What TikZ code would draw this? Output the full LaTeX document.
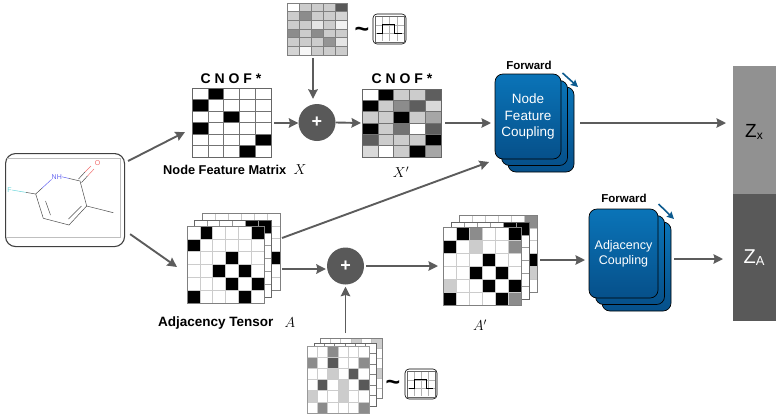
\documentclass[tikz,border=0pt]{standalone}
\usepackage{fontspec}
\setmainfont{Liberation Sans}
\usetikzlibrary{arrows.meta,calc}
\definecolor{bluetop}{HTML}{0A74B8}
\definecolor{bluebot}{HTML}{06508A}
\definecolor{bluearr}{HTML}{0C5A8E}
\definecolor{arrgray}{gray}{0.36}
\definecolor{atomF}{RGB}{110,215,220}
\definecolor{atomN}{RGB}{100,100,240}
\definecolor{atomO}{RGB}{240,110,110}
\tikzset{
  arr/.style={draw=arrgray,line width=1.9pt,-{Stealth[length=9.5pt,width=9.5pt,inset=1.2pt]}},
  bluearrow/.style={draw=bluearr,line width=1.6pt,-{Stealth[length=7pt,width=7pt,inset=1pt]}},
  anchorbox/.style={inner sep=0pt,outer sep=0pt,minimum width=#1},
  plusnode/.style={circle,fill=black!65,text=white,inner sep=0pt,minimum size=37pt,font=\bfseries\fontsize{18}{18}\selectfont},
  card/.style={draw=black,line width=0.7pt,rounded corners=8pt,top color=bluetop,bottom color=bluebot},
  cardtext/.style={text=white,align=center,inner sep=0pt},
  fwd/.style={font=\bfseries\fontsize{11.5}{12}\selectfont,inner sep=0pt},
  cnof/.style={font=\bfseries\fontsize{14}{14}\selectfont,inner sep=0pt},
  captext/.style={font=\bfseries\fontsize{#1}{14}\selectfont,inner sep=0pt},
  mathlab/.style={font=\fontsize{14.4}{15}\selectfont,inner sep=0pt},
  tildetext/.style={font=\bfseries\fontsize{25}{25}\selectfont,inner sep=0pt},
  bond/.style={draw=black!70,line width=0.5pt},
  atom/.style={inner sep=0pt,font=\fontsize{7}{8}\selectfont}
}
% x0 y0 w h cols rows inner outer cells(c/r/darkness)
\newcommand{\gridmat}[9]{%
  \fill[white] (#1,#2) rectangle ++(#3,#4);
  \foreach \cc/\rr/\gg in {#9}{%
    \fill[black!\gg] ({#1+\cc*#3/#5},{#2+\rr*#4/#6}) rectangle ++({#3/#5},{#4/#6});
  }
  \foreach \ii in {1,...,\numexpr#5-1\relax}{\draw[#7,line width=0.6pt] ({#1+\ii*#3/#5},#2) -- ++(0,#4);}
  \foreach \ii in {1,...,\numexpr#6-1\relax}{\draw[#7,line width=0.6pt] (#1,{#2+\ii*#4/#6}) -- ++(#3,0);}
  \draw[#8,line width=0.7pt] (#1,#2) rectangle ++(#3,#4);
}
% uniform icon: x0 y0 w h
\newcommand{\uniformicon}[4]{%
  \draw[black,line width=0.6pt,rounded corners=4pt,fill=white] (#1,#2) rectangle ++(#3,#4);
  \foreach \ii in {1,2,3}{\draw[black!30,line width=0.4pt] ({#1+2+\ii*(#3-4)/4},#2+3) -- ++(0,#4-6);}
  \foreach \ii in {1,2}{\draw[black!30,line width=0.4pt] (#1+2,{#2+3+\ii*(#4-6)/3}) -- ++(#3-4,0);}
  \draw[black!60,line width=0.5pt] (#1+2,#2+2) rectangle ++(#3-4,#4-4);
  \draw[black,line width=1.1pt] ({#1+.12*#3},{#2+.64*#4}) -- ++({.17*#3},0) -- ++(0,{-.28*#4}) -- ++({.37*#3},0) -- ++(0,{.28*#4}) -- ++({.21*#3},0);
}
\newcommand{\cardstack}[4]{%
  \path[card] (#1+13,#2+13) rectangle ++(#3,#4);
  \path[card] (#1+6.5,#2+6.5) rectangle ++(#3,#4);
  \path[card] (#1,#2) rectangle ++(#3,#4);
}
\begin{document}
\begin{tikzpicture}[x=1pt,y=-1pt]
\useasboundingbox (0,0) rectangle (783,418);
% molecule
\node[draw=black!75,line width=1.1pt,rounded corners=10pt,anchor=north west,inner sep=0pt,minimum width=119pt,minimum height=93pt] (mol) at (5,153) {};
\draw[black!25,line width=0.5pt] (7,158) -- (120.5,158) -- (120.5,237.5) -- (7,237.5);
\coordinate (c6) at (35.7,194);
\coordinate (c2) at (80,181);
\coordinate (c3) at (86.7,206);
\coordinate (me) at (113.3,212.7);
\coordinate (c4) at (69,225);
\coordinate (c5) at (43.3,218.3);
\node[atom,text=atomF] (fa) at (9.5,190) {F};
\node[atom,text=atomN] (nh) at (56.8,176.8) {NH};
\node[atom,text=atomO] (oa) at (97.5,163) {O};
\draw[atomF,line width=0.5pt] (fa.east) -- ($(fa.east)!0.6!(c6)$);
\draw[bond] ($(fa.east)!0.6!(c6)$) -- (c6);
\draw[atomN,line width=0.5pt] (nh.south west) -- ($(nh.south west)!0.6!(c6)$);
\draw[bond] ($(nh.south west)!0.6!(c6)$) -- (c6);
\draw[atomN,line width=0.5pt] (nh.east) -- ($(nh.east)!0.4!(c2)$);
\draw[bond] ($(nh.east)!0.4!(c2)$) -- (c2);
\draw[bond] (c2) -- (c3) -- (me);
\draw[bond] (c3) -- (c4) -- (c5) -- (c6);
\draw[bond] (45.5,201) -- (50.5,215);
\draw[bond] (68.5,219) -- (81.5,206);
\draw[bond] (78.5,179) -- (85,172);
\draw[atomO,line width=0.5pt] (85,172) -- (91,166);
\draw[bond] (81.5,182.5) -- (87.5,176);
\draw[atomO,line width=0.5pt] (87.5,176) -- (94,169);
% X
\node[anchorbox=79pt,minimum height=69pt] (X) at (231.5,122.5) {};
\gridmat{192}{88}{79}{69}{5}{6}{black!55}{black!60}{1/0/100,0/1/100,2/2/100,0/3/100,4/4/100,3/5/100}
\node[cnof] (cnofa) at (231,79) {C N O F *};
\node[captext=12.8,anchor=west] (capx) at (163,170) {Node Feature Matrix};
\node[mathlab] (labx) at (300,170) {$X$};
% noise X
\node[anchorbox=60pt,minimum height=52pt] (nx) at (317,29) {};
\gridmat{287}{3}{60}{52}{5}{6}{black!50}{black!50}{0/0/0,1/0/20,2/0/20,3/0/20,4/0/65,0/1/20,1/1/45,2/1/20,3/1/20,4/1/17,0/2/20,1/2/20,2/2/10,3/2/20,4/2/5,0/3/45,1/3/20,2/3/45,3/3/20,4/3/20,0/4/20,1/4/20,2/4/20,3/4/42,4/4/10,0/5/17,1/5/3,2/5/20,3/5/20,4/5/20}
\node[tildetext] (tx) at (362,32) {\textasciitilde};
\uniformicon{373}{14}{33}{30}
% plus X
\node[plusnode] (px) at (317,122.5) {+};
% X'
\node[anchorbox=79pt,minimum height=68pt] (Xp) at (401.5,123) {};
\gridmat{362}{89}{79}{68}{5}{6}{black!55}{black!60}{1/0/100,2/0/20,3/0/20,4/0/63,0/1/100,1/1/20,2/1/45,3/1/63,4/1/15,0/2/20,1/2/20,2/2/100,3/2/20,4/2/35,0/3/100,1/3/20,2/3/55,4/3/63,0/4/63,1/4/20,2/4/20,3/4/20,4/4/100,0/5/15,2/5/20,3/5/100,4/5/35}
\node[cnof] (cnofb) at (402,79) {C N O F *};
\node[mathlab] (labxp) at (401,172) {$X'$};
% flow X
\node[anchorbox=66pt,minimum height=85pt] (fx) at (528,116.5) {};
\cardstack{495}{74}{66}{85}
\node[cardtext,font=\fontsize{13.5}{16.5}\selectfont] (fxt) at (528,117) {Node\\Feature\\Coupling};
\node[fwd] (fwdx) at (529,65) {Forward};
\coordinate (bxa) at (562.5,73);
\coordinate (bxb) at (578,87);
\draw[bluearrow] (bxa) -- (bxb);
% A
\node[anchorbox=77pt,minimum height=77pt] (A) at (225.5,264.5) {};
\gridmat{202}{213}{78}{77}{6}{6}{black!22}{black!50}{5/3/100}
\gridmat{194}{220}{77}{77}{6}{6}{black!40}{black!60}{4/0/100,5/0/100}
\gridmat{187}{226}{77}{77}{6}{6}{black!20}{black!50}{1/0/100,5/0/100,0/1/100,3/2/100,2/3/100,4/3/100,3/4/100,5/4/100,0/5/100,4/5/100}
\node[captext=13.5,anchor=west] (capa) at (158,323) {Adjacency Tensor};
\node[mathlab] (laba) at (290,322.5) {$A$};
% plus A
\node[plusnode] (pa) at (345.5,266) {+};
% noise A
\gridmat{320}{338}{62}{60}{6}{6}{black!25}{black!50}{3/0/20,5/0/20,5/3/20}
\gridmat{314}{343}{62}{63}{6}{6}{black!50}{black!60}{0/0/0}
\node[anchorbox=62pt,minimum height=67pt] (na) at (338,379.5) {};
\gridmat{307}{346}{62}{67}{6}{6}{black!20}{black!40}{2/0/45,0/1/45,2/1/65,5/1/45,2/2/20,4/2/65,1/3/65,3/3/20,5/3/65,0/4/20,3/4/20,1/5/45,5/5/45}
\node[tildetext] (ta) at (393,385) {\textasciitilde};
\uniformicon{405}{369}{32}{30}
% A'
\gridmat{459}{215}{78}{77}{6}{6}{black!22}{black!50}{5/0/45,5/3/100,5/4/20}
\gridmat{451}{222}{78}{77}{6}{6}{black!40}{black!60}{4/0/100,5/0/100}
\node[anchorbox=78pt,minimum height=78pt] (Ap) at (482,266) {};
\gridmat{443}{227}{78}{78}{6}{6}{black!20}{black!50}{1/0/100,2/0/45,5/0/100,0/1/100,2/1/20,5/1/45,3/2/100,2/3/100,4/3/100,0/4/20,3/4/100,5/4/100,0/5/100,4/5/100,5/5/45}
\node[mathlab] (labap) at (480,325) {$A'$};
% flow A
\node[anchorbox=69pt,minimum height=89pt] (fa2) at (623.5,253.5) {};
\cardstack{589}{209}{69}{89}
\node[cardtext,font=\fontsize{12.5}{15}\selectfont] (fat) at (623.5,254) {Adjacency\\Coupling};
\node[fwd] (fwda) at (624,198) {Forward};
\coordinate (baa) at (658.5,204);
\coordinate (bab) at (674,219);
\draw[bluearrow] (baa) -- (bab);
% latent bars
\node[anchorbox=42.5pt,minimum height=128pt,fill=black!43] (zx) at (754.25,130) {};
\node[anchorbox=42.5pt,minimum height=127pt,fill=black!65] (za) at (754.25,257.5) {};
\node[text=black,inner sep=0pt,font=\fontsize{19}{19}\selectfont] (zxt) at (754,131.5) {Z\raisebox{-2pt}{\fontsize{12}{12}\selectfont x}};
\node[text=white,inner sep=0pt,font=\fontsize{20}{20}\selectfont] (zat) at (754,258) {Z\raisebox{-2pt}{\fontsize{13}{13}\selectfont A}};
% connectors
\draw[arr] ([shift={(3,8)}]mol.north east) -- ([shift={(-7,44)}]X.north west);
\draw[arr] ([shift={(5,-13)}]mol.south east) -- ([shift={(-10,41)}]A.north west);
\draw[arr] ([shift={(3,0.5)}]X.east) -- ([shift={(0,0.5)}]px.west);
\draw[arr] ([shift={(-4,3)}]nx.south) -- ([shift={(-4,-5)}]px.north);
\draw[arr] (px.east) -- ([shift={(-1,0)}]Xp.west);
\draw[arr] ([shift={(4,0)}]Xp.east) -- ([shift={(-4,6.5)}]fx.west);
\draw[arr] ([shift={(19,6.5)}]fx.east) -- ([shift={(-7,-7)}]zx.west);
\draw[arr] ([shift={(18,-26.5)}]A.east) -- ([shift={(-6,45.5)}]fx.west);
\draw[arr] ([shift={(18,4.5)}]A.east) -- ([shift={(-1,3)}]pa.west);
\draw[arr] ([shift={(7.5,-13)}]na.north) -- ([shift={(0,2)}]pa.south);
\draw[arr] ([shift={(2,0)}]pa.east) -- ([shift={(-5,0)}]Ap.west);
\draw[arr] ([shift={(19,-6)}]Ap.east) -- ([shift={(-4,6.5)}]fa2.west);
\draw[arr] ([shift={(16,5.5)}]fa2.east) -- ([shift={(-10,1.5)}]za.west);
\end{tikzpicture}
\end{document}
